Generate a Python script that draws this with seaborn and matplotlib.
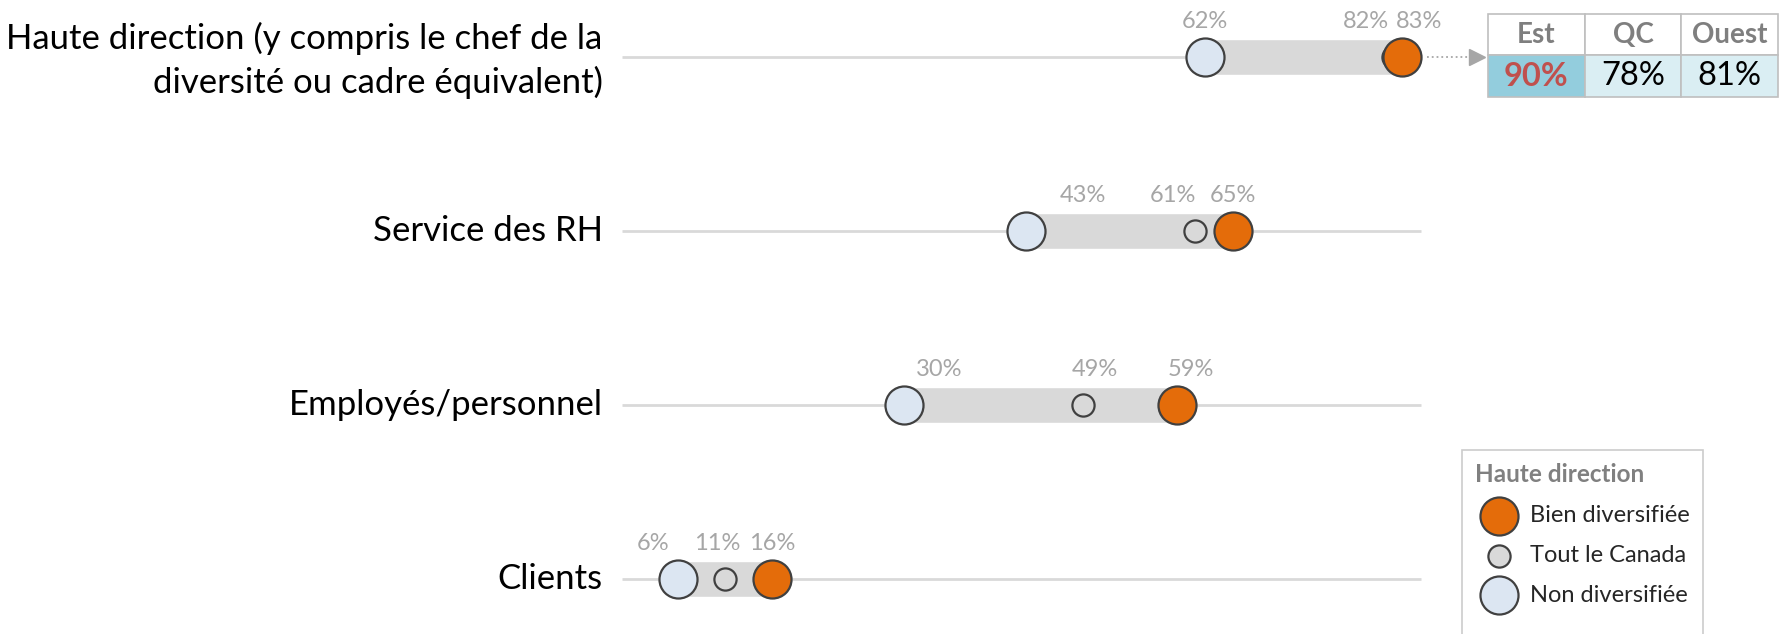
import numpy as np
import pandas as pd
import matplotlib.pyplot as plt
import matplotlib.transforms as mtransforms
from matplotlib.lines import Line2D
import seaborn as sns

# values
categories = ["Haute direction (y compris le chef de la\ndiversité ou cadre équivalent)",
              "Service des RH", "Employés/personnel", "Clients"]
bien = [83, 65, 59, 16]
canada = [82, 61, 49, 11]
non = [62, 43, 30, 6]
regions = ["Est", "QC", "Ouest"]
region_vals = [90, 78, 81]

# label nudges in points (dx) for non / canada / bien
dx_non = [0, 41, 25, -18]
dx_can = [-19, -16, 9, -6]
dx_bien = [12, 0, 10, 0]

ORANGE = "#e46c0a"
LIGHTBLUE = "#dce6f2"
SMALLGREY = "#d9d9d9"
EDGE = "#404040"
LABELGREY = "#a6a6a6"

sns.set_theme(style="white")
plt.rcParams["font.family"] = ["Lato", "DejaVu Sans"]

df = pd.DataFrame({"cat": categories, "bien": bien, "canada": canada, "non": non})
df["y"] = np.arange(len(df))[::-1]

fig = plt.figure(figsize=(17.87, 6.34), dpi=100)
ax = fig.add_axes([622 / 1787, 0, 940 / 1787, 1])
ax.set_xlim(0, 100)
ax.set_ylim(-0.316, 3.328)

ax.hlines(df["y"], 0, 85, color="#d9d9d9", lw=2, zorder=1)
ax.barh(df["y"], df["bien"] - df["non"], left=df["non"], height=0.21,
        color="#d9d9d9", zorder=2)

big, small = 750, 255
sns.scatterplot(x=df["non"], y=df["y"], s=big, color=LIGHTBLUE, edgecolor=EDGE,
                linewidth=1.6, ax=ax, zorder=3)
h_non = ax.collections[-1]
sns.scatterplot(x=df["canada"], y=df["y"], s=small, color=SMALLGREY, edgecolor=EDGE,
                linewidth=1.6, ax=ax, zorder=3)
h_can = ax.collections[-1]
sns.scatterplot(x=df["bien"], y=df["y"], s=big, color=ORANGE, edgecolor=EDGE,
                linewidth=1.6, ax=ax, zorder=4)
h_bien = ax.collections[-1]

for i, r in df.iterrows():
    for col, dx in (("non", dx_non[i]), ("canada", dx_can[i]), ("bien", dx_bien[i])):
        ax.annotate(f"{r[col]}%", (r[col], r["y"]), xytext=(dx, 25.5),
                    textcoords="offset points", ha="center", va="center",
                    fontsize=17, color=LABELGREY)

ax.set_yticks(df["y"])
ax.set_yticklabels(df["cat"], fontsize=25, color="black", linespacing=1.4)
ax.tick_params(axis="y", length=0, pad=14)
lift = mtransforms.ScaledTranslation(0, 2 / 72, fig.dpi_scale_trans)
for lbl in ax.get_yticklabels():
    lbl.set_transform(lbl.get_transform() + lift)
ax.get_yticklabels()[0].set_transform(ax.get_yticklabels()[0].get_transform()
                                      + mtransforms.ScaledTranslation(0, 2 / 72, fig.dpi_scale_trans))
ax.set_xticks([])
ax.set_xlabel("")
ax.set_ylabel("")
sns.despine(ax=ax, left=True, bottom=True)

# dotted pointer to the regional table
ax.plot([85.6, 90.3], [3, 3], ls=":", color="#a6a6a6", lw=1.3, zorder=1, clip_on=False)
ax.plot([91.0], [3], marker=">", ms=11, color="#a6a6a6", mec="#a6a6a6", clip_on=False)

tbl = ax.table(cellText=[regions, [f"{v}%" for v in region_vals]],
               cellLoc="center", bbox=[0.921, 0.847, 0.309, 0.131])
tbl.auto_set_font_size(False)
for (row, col), cell in tbl.get_celld().items():
    cell.set_edgecolor("#bfbfbf")
    cell.set_linewidth(1.2)
    t = cell.get_text()
    if row == 0:
        cell.set_facecolor("white")
        t.set_fontsize(20)
        t.set_fontweight("bold")
        t.set_color("#7f7f7f")
    else:
        t.set_fontsize(23.5)
        if col == 0:
            cell.set_facecolor("#93cddd")
            t.set_color("#c0504d")
            t.set_fontweight("bold")
        else:
            cell.set_facecolor("#daeef3")
            t.set_color("black")

# empty last row so the frame runs off the bottom edge like the original
spacer = Line2D([], [], linestyle="none")
leg = ax.legend(handles=[h_bien, h_can, h_non, spacer],
                labels=["Bien diversifiée", "Tout le Canada", "Non diversifiée", " "],
                title="Haute direction", loc="upper left",
                bbox_to_anchor=(1462 / 1787, 1 - 450 / 634), bbox_transform=fig.transFigure,
                frameon=True, fancybox=False, edgecolor="#bfbfbf", fontsize=17,
                title_fontproperties={"weight": "bold", "size": 17.5},
                alignment="left", labelspacing=0.8, handletextpad=0.35,
                borderpad=0.55, borderaxespad=0)
leg.get_title().set_color("#808080")
leg.get_frame().set_linewidth(1.2)

fig.savefig("out.png", dpi=100)
